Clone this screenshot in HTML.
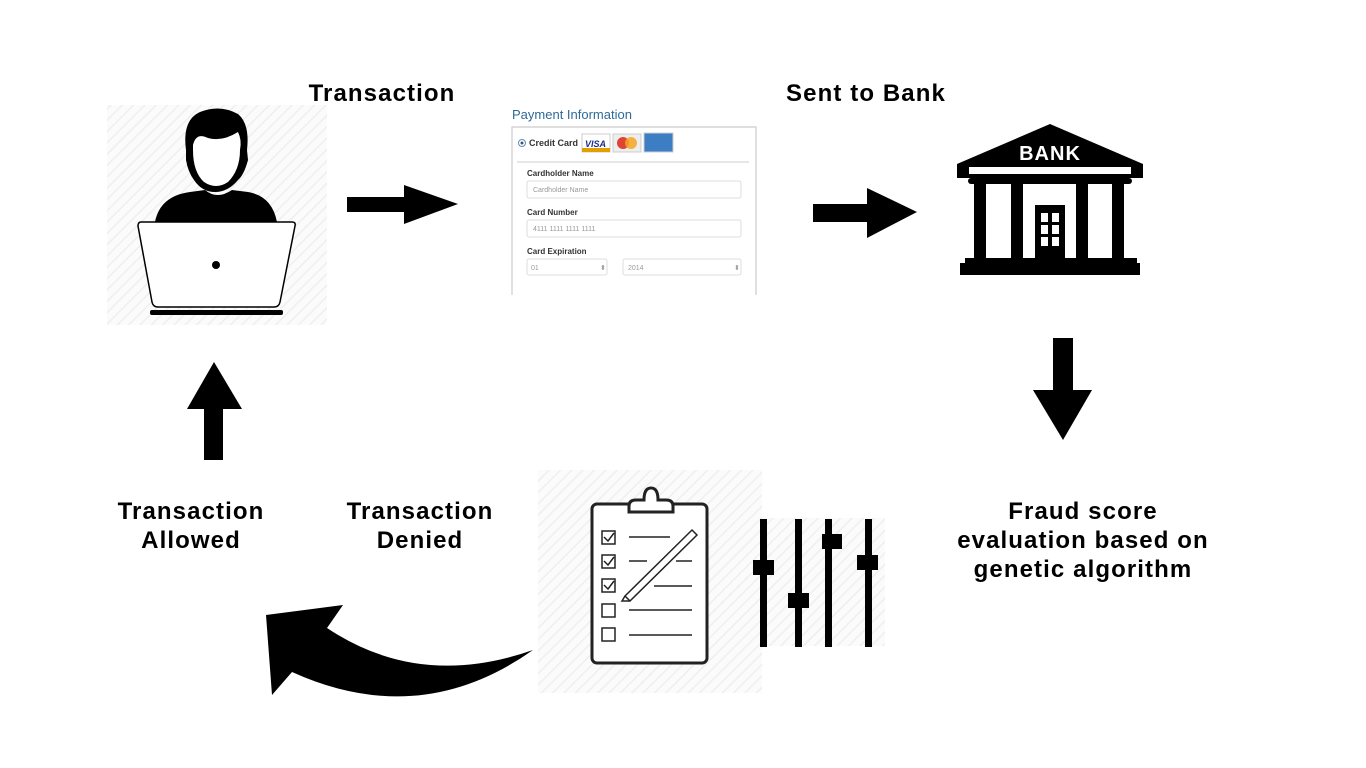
<!DOCTYPE html>
<html><head><meta charset="utf-8"><style>
html,body{margin:0;padding:0;background:#fff;width:1366px;height:768px;overflow:hidden}
svg{display:block}
text{font-family:"Liberation Sans",Arial,sans-serif}
.t{font-weight:bold;font-size:24px;fill:#000;text-anchor:middle;letter-spacing:1.1px}
.f{font-size:8px;fill:#333;font-weight:bold}
.p{font-size:7px;fill:#999}
</style></head><body>
<svg width="1366" height="768" viewBox="0 0 1366 768" xmlns="http://www.w3.org/2000/svg">
<defs>
<pattern id="h" width="8" height="8" patternUnits="userSpaceOnUse" patternTransform="rotate(45)">
<rect width="8" height="8" fill="#fbfbfb"/><rect width="1.5" height="8" fill="#efefef"/>
</pattern>
</defs>
<rect width="1366" height="768" fill="#fff"/>

<!-- person -->
<rect x="107" y="105" width="220" height="220" fill="url(#h)"/>
<path d="M155 222 Q160 196 190 192 L205 190 Q217 200 232 190 L248 192 Q272 196 277 222 Z" fill="#000"/>
<path d="M186 150 Q182 120 200 112 Q220 104 238 114 Q250 124 247 150 L248 160 Q244 175 238 180 Q228 192 215 192 Q202 192 194 180 Q188 172 186 160 Z" fill="#000"/>
<path d="M193 145 Q196 132 208 138 Q222 142 238 132 Q242 140 240 150 Q240 170 228 182 Q216 190 204 182 Q193 172 193 150 Z" fill="#fff"/>
<path d="M141 222 L292 222 Q296 222 295 226 L280 302 Q279 307 274 307 L158 307 Q153 307 152 302 L138 226 Q138 222 141 222 Z" fill="#fff" stroke="#000" stroke-width="1.5"/>
<circle cx="216" cy="265" r="4" fill="#000"/>
<rect x="150" y="310" width="133" height="5" rx="2" fill="#000"/>

<!-- arrows -->
<path d="M347 197 H404 V185 L458 204 L404 224 V212 H347 Z" fill="#000"/>
<path d="M813 204 H867 V188 L917 212 L867 238 V222 H813 Z" fill="#000"/>
<path d="M1053 338 H1073 V390 H1092 L1063 440 L1033 390 H1053 Z" fill="#000"/>
<path d="M214 362 L242 409 H223 V460 H204 V409 H187 Z" fill="#000"/>
<path d="M266 615 L343 605 L327 628 Q420 690 533 650 Q420 730 292 672 L272 695 Z" fill="#000"/>

<!-- labels -->
<text class="t" x="382" y="101">Transaction</text>
<text class="t" x="866" y="101">Sent to Bank</text>
<text class="t" x="191" y="519">Transaction</text>
<text class="t" x="191" y="548">Allowed</text>
<text class="t" x="420" y="519">Transaction</text>
<text class="t" x="420" y="548">Denied</text>
<text class="t" x="1083" y="519">Fraud score</text>
<text class="t" x="1083" y="548">evaluation based on</text>
<text class="t" x="1083" y="577">genetic algorithm</text>

<!-- payment form -->
<text x="512" y="119" font-size="13" fill="#2e6a96">Payment Information</text>
<path d="M512 295 V127 H756 V295" fill="#fff" stroke="#ccc" stroke-width="1.2"/>
<circle cx="522" cy="143" r="3.5" fill="#fff" stroke="#6a8cb0"/><circle cx="522" cy="143" r="1.5" fill="#2e5a86"/>
<text x="529" y="146" font-size="9" font-weight="bold" fill="#333">Credit Card</text>
<rect x="582" y="134" width="28" height="18" fill="#fff" stroke="#ccc"/><rect x="582" y="148" width="28" height="4" fill="#e0a000"/>
<text x="585" y="147" font-size="9" font-weight="bold" font-style="italic" fill="#1a2e8a">VISA</text>
<rect x="613" y="134" width="28" height="18" fill="#eee" stroke="#ccc"/><circle cx="623" cy="143" r="6" fill="#d43"/><circle cx="631" cy="143" r="6" fill="#f5a623" opacity="0.85"/>
<rect x="644" y="133" width="29" height="19" fill="#3d7dc4" stroke="#ccc"/>
<line x1="517" y1="162" x2="749" y2="162" stroke="#ddd" stroke-width="1.5"/>
<text class="f" x="527" y="176">Cardholder Name</text>
<rect x="527" y="181" width="214" height="17" rx="2" fill="#fff" stroke="#ddd"/>
<text class="p" x="533" y="192">Cardholder Name</text>
<text class="f" x="527" y="215">Card Number</text>
<rect x="527" y="220" width="214" height="17" rx="2" fill="#fff" stroke="#ddd"/>
<text class="p" x="533" y="231">4111 1111 1111 1111</text>
<text class="f" x="527" y="254">Card Expiration</text>
<rect x="527" y="259" width="80" height="16" rx="2" fill="#fff" stroke="#ddd"/>
<text class="p" x="531" y="270" fill="#555">01</text><text class="p" x="600" y="270" fill="#555">⬍</text>
<rect x="623" y="259" width="118" height="16" rx="2" fill="#fff" stroke="#ddd"/>
<text class="p" x="628" y="270" fill="#555">2014</text><text class="p" x="734" y="270" fill="#555">⬍</text>

<!-- bank -->
<path d="M957 164 L1050 124 L1143 164 Z" fill="#000"/>
<text x="1050" y="160" font-size="20" font-weight="bold" fill="#fff" text-anchor="middle" letter-spacing="1">BANK</text>
<rect x="957" y="164" width="186" height="14" fill="#000"/>
<rect x="969" y="167" width="162" height="7" fill="#fff"/>
<rect x="968" y="178" width="164" height="6" rx="3" fill="#000"/>
<rect x="974" y="182" width="12" height="78" fill="#000"/>
<rect x="1011" y="182" width="12" height="78" fill="#000"/>
<rect x="1076" y="182" width="12" height="78" fill="#000"/>
<rect x="1112" y="182" width="12" height="78" fill="#000"/>
<rect x="1035" y="205" width="30" height="55" fill="#000"/>
<rect x="1041" y="213" width="7" height="9" fill="#fff"/><rect x="1052" y="213" width="7" height="9" fill="#fff"/>
<rect x="1041" y="225" width="7" height="9" fill="#fff"/><rect x="1052" y="225" width="7" height="9" fill="#fff"/>
<rect x="1041" y="237" width="7" height="9" fill="#fff"/><rect x="1052" y="237" width="7" height="9" fill="#fff"/>
<rect x="965" y="258" width="172" height="6" fill="#000"/>
<rect x="960" y="263" width="180" height="12" fill="#000"/>

<!-- clipboard -->
<rect x="538" y="470" width="224" height="223" fill="url(#h)"/>
<rect x="592" y="504" width="115" height="159" rx="5" fill="#fff" stroke="#222" stroke-width="3"/>
<path d="M629 512 V506 Q629 500 636 500 H644 Q644 488 651 488 Q658 488 658 500 H666 Q673 500 673 506 V512 Z" fill="#fff" stroke="#222" stroke-width="3"/>
<g fill="none" stroke="#222" stroke-width="1.5">
<rect x="602" y="531" width="13" height="13"/><rect x="602" y="555" width="13" height="13"/><rect x="602" y="579" width="13" height="13"/>
<rect x="602" y="604" width="13" height="13"/><rect x="602" y="628" width="13" height="13"/>
<path d="M604 537 L608 541 L614 533 M604 561 L608 565 L614 557 M604 585 L608 589 L614 581"/>
<path d="M629 537 H670 M629 561 H647 M676 561 H692 M654 586 H692 M629 610 H692 M629 635 H692"/>
<path d="M625 596 L692 530 L697 535 L630 601 Z M625 596 L622 601 L630 601"/>
</g>
<!-- sliders -->
<rect x="755" y="518" width="130" height="128" fill="url(#h)"/>
<g fill="#000">
<rect x="760" y="519" width="7" height="128"/><rect x="795" y="519" width="7" height="128"/>
<rect x="825" y="519" width="7" height="128"/><rect x="865" y="519" width="7" height="128"/>
<rect x="753" y="560" width="21" height="15"/><rect x="788" y="593" width="21" height="15"/>
<rect x="822" y="534" width="20" height="15"/><rect x="857" y="555" width="21" height="15"/>
</g>
</svg>
</body></html>
